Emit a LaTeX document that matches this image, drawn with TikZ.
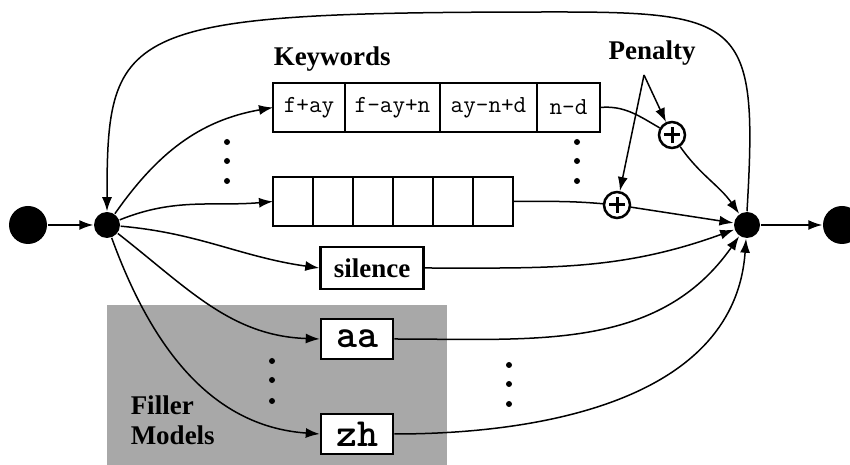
\documentclass[tikz,border=0pt]{standalone}
\usepackage{fontspec}
\setmainfont{Liberation Serif}
\usetikzlibrary{positioning,arrows.meta}
\definecolor{fillgray}{gray}{0.66}

\begin{document}
\begin{tikzpicture}[x=1pt,y=1pt,>={Latex[length=14pt,width=10pt]},line width=1.5pt,
			bigdot/.style={circle,fill,inner sep=0,minimum size=38pt},
			smalldot/.style={circle,fill,inner sep=0,minimum size=26pt},
			bullet/.style={circle,fill,inner sep=0,minimum size=6pt},
			lbl/.style={font=\bfseries\fontsize{27}{30}\selectfont,inner sep=0},
			cell/.style={draw,line width=2.5pt,fill=white,outer sep=0,inner sep=0,minimum height=49pt,
				font=\ttfamily\fontsize{24.5}{26}\selectfont},
			model/.style={draw,line width=2.5pt,fill=white,inner sep=0,minimum width=72pt,minimum height=40pt,
				font=\ttfamily\bfseries\fontsize{40}{40}\selectfont},
			plusnode/.style={circle,draw,line width=2.5pt,fill=white,inner sep=0,minimum size=26pt,
				path picture={\draw[line width=3pt] ([xshift=-8pt]path picture bounding box.center) -- ([xshift=8pt]path picture bounding box.center);
					\draw[line width=3pt] ([yshift=-8pt]path picture bounding box.center) -- ([yshift=8pt]path picture bounding box.center);}}]
			\useasboundingbox (0,0) rectangle (850,465);
			% filler area
			\fill[fillgray] (107,0) rectangle (447,160);
			\node[lbl,align=left,anchor=north west] (filler) at (130,70) {Filler\\Models};
			
			\node[bigdot] (start) at (28,240) {};
			\node[smalldot] (L) at (107,240) {};
			\node[smalldot] (R) at (747,240) {};
			\node[bigdot] (stop) at (842,240) {};
			
			% keyword rows
			\node[cell,minimum width=72pt,anchor=west] (k1) at (273,357.5) {f+ay};
			\node[cell,minimum width=95pt,right=0pt of k1] (k2) {f-ay+n};
			\node[cell,minimum width=97pt,right=0pt of k2] (k3) {ay-n+d};
			\node[cell,minimum width=63pt,right=0pt of k3] (k4) {n-d};
			\node[lbl,anchor=south west] (kw) at ([yshift=11pt]k1.north west) {Keywords};
			
			\node[cell,minimum width=40pt] (e1) at (293,263.5) {};
			\foreach \X [count=\Y from 2] in {1,...,5}
			{\node[cell,minimum width=40pt,right=0pt of e\X] (e\Y) {};}
			
			\foreach \Y in {323,304,284}
			{\node[bullet] at (227,\Y) {};
				\node[bullet] at (577,\Y) {};}
			
			\node[plusnode] (p1) at (672,330) {};
			\node[plusnode] (p2) at (617,260) {};
			\node[lbl] (pen) at (652,412) {Penalty};
			\coordinate (pp) at (644,390);
			
			\node[draw,line width=2.5pt,fill=white,minimum width=103pt,minimum height=42pt,lbl] (sil) at (372,197) {silence};
			\node[model] (aa) at (357,126) {aa};
			\node[model] (zh) at (357,31) {zh};
			
			\foreach \Y in {104,85,64}
			{\node[bullet] at (272,\Y) {};}
			\foreach \Y in {100,81,61}
			{\node[bullet] at (509,\Y) {};}
			
			\draw[->] (start) -- (L);
			\draw[->] (L) to[out=55,in=190] (k1.west);
			\draw[->] (L) to[out=22,in=185] (e1.west);
			\draw[->] (L) to[out=-5,in=172] (sil.west);
			\draw[->] (L) to[out=-38,in=178] (aa.west);
			\draw[->] (L) to[out=-70,in=176] (zh.west);
			
			\draw (k4.east) to[out=5,in=150] (p1);
			\draw[->] (p1) to[out=-55,in=125] (R);
			\draw (e6.east) to[out=0,in=175] (p2);
			\draw[->] (p2) -- (R);
			\draw[->] (sil.east) to[out=0,in=200] (R);
			\draw[->] (aa.east) to[out=0,in=235] (R);
			\draw[->] (zh.east) to[out=0,in=266] (R);
			\draw[->] (R) -- (stop);
			
			\draw[->] (pp) -- (p1);
			\draw[->] (pp) -- (p2);
			
			% loop back
			\draw[->] (R.north) .. controls (758,440) and (745,453) .. (560,453)
				.. controls (120,453) and (107,440) .. (L.north);
		\end{tikzpicture}
\end{document}
